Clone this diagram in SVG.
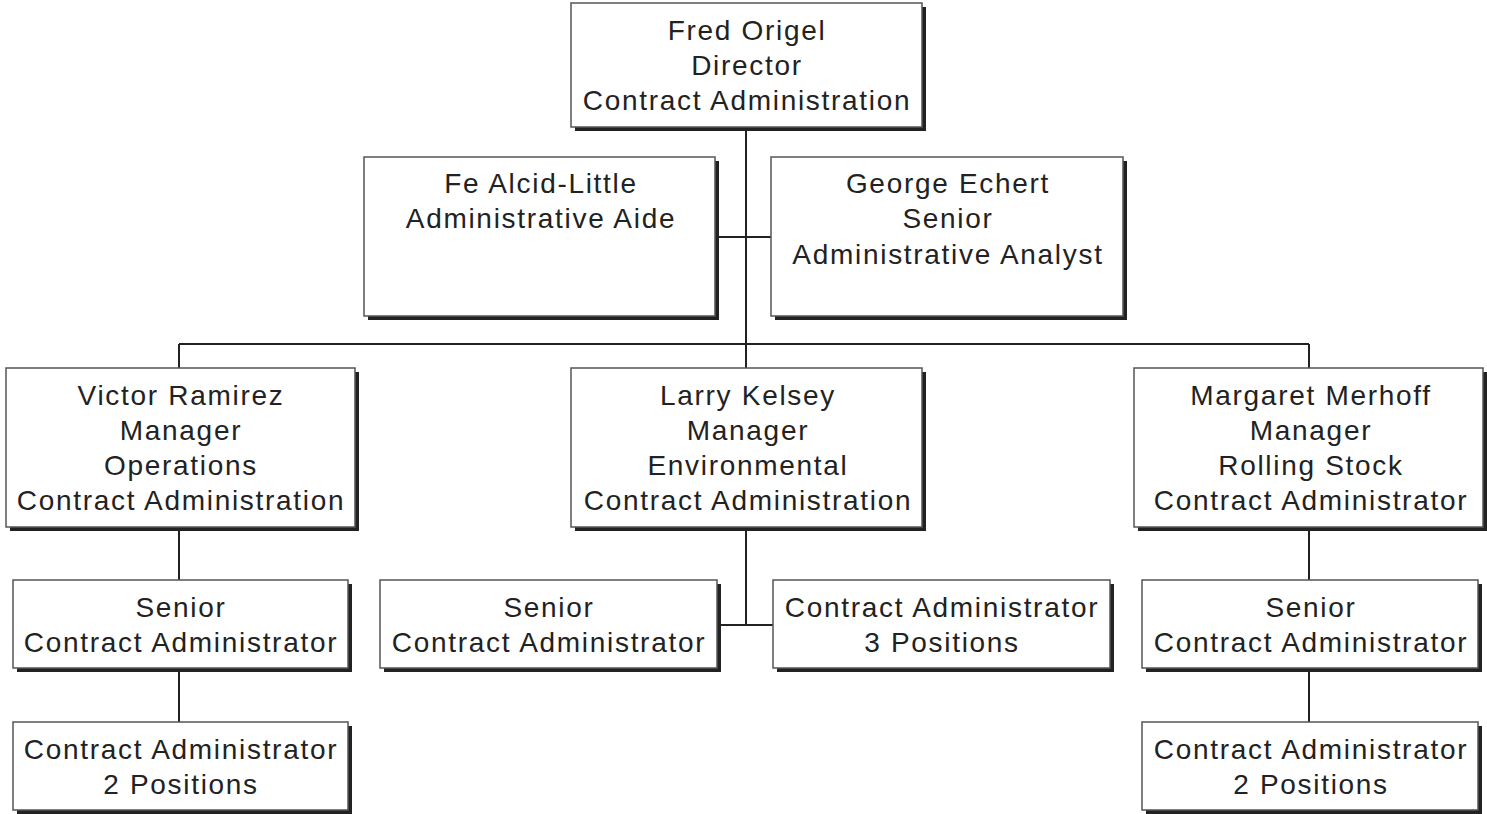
<svg xmlns="http://www.w3.org/2000/svg" width="1487" height="814" viewBox="0 0 1487 814">
<style>
.box{fill:#fff;stroke:#555;stroke-width:1.5}
.sh{fill:#222}
text{font-family:"Liberation Sans",Arial,sans-serif;font-size:28px;letter-spacing:1.7px;fill:#222;text-anchor:middle}
.ln{stroke:#222;stroke-width:2;fill:none}
</style>
<rect width="1487" height="814" fill="#fff"/>
<g id="connectors">
<path class="ln" d="M746 127V368M715 237H771M179 344H1309M179 344V368M1309 344V368M179 527V580M179 668V722M746 527V625M717 625H773M1309 527V580M1309 668V722"/>
</g>
<g id="n-fred"><rect class="sh" x="575" y="7" width="351" height="124"/><rect class="box" x="571" y="3" width="351" height="124"/><text x="747" y="40">Fred Origel</text><text x="747" y="75">Director</text><text x="747" y="110">Contract Administration</text></g>
<g id="n-fe"><rect class="sh" x="368" y="161" width="351" height="159"/><rect class="box" x="364" y="157" width="351" height="159"/><text x="541" y="193">Fe Alcid-Little</text><text x="541" y="228">Administrative Aide</text></g>
<g id="n-george"><rect class="sh" x="775" y="161" width="352" height="159"/><rect class="box" x="771" y="157" width="352" height="159"/><text x="948" y="193">George Echert</text><text x="948" y="228">Senior</text><text x="948" y="264">Administrative Analyst</text></g>
<g id="n-victor"><rect class="sh" x="10" y="372" width="349" height="159"/><rect class="box" x="6" y="368" width="349" height="159"/><text x="181" y="405">Victor Ramirez</text><text x="181" y="440">Manager</text><text x="181" y="475">Operations</text><text x="181" y="510">Contract Administration</text></g>
<g id="n-larry"><rect class="sh" x="575" y="372" width="351" height="159"/><rect class="box" x="571" y="368" width="351" height="159"/><text x="748" y="405">Larry Kelsey</text><text x="748" y="440">Manager</text><text x="748" y="475">Environmental</text><text x="748" y="510">Contract Administration</text></g>
<g id="n-margaret"><rect class="sh" x="1138" y="372" width="349" height="159"/><rect class="box" x="1134" y="368" width="349" height="159"/><text x="1311" y="405">Margaret Merhoff</text><text x="1311" y="440">Manager</text><text x="1311" y="475">Rolling Stock</text><text x="1311" y="510">Contract Administrator</text></g>
<g id="n-senior-left"><rect class="sh" x="17" y="584" width="335" height="88"/><rect class="box" x="13" y="580" width="335" height="88"/><text x="181" y="617">Senior</text><text x="181" y="652">Contract Administrator</text></g>
<g id="n-senior-mid"><rect class="sh" x="384" y="584" width="337" height="88"/><rect class="box" x="380" y="580" width="337" height="88"/><text x="549" y="617">Senior</text><text x="549" y="652">Contract Administrator</text></g>
<g id="n-ca3"><rect class="sh" x="777" y="584" width="337" height="88"/><rect class="box" x="773" y="580" width="337" height="88"/><text x="942" y="617">Contract Administrator</text><text x="942" y="652">3 Positions</text></g>
<g id="n-senior-right"><rect class="sh" x="1146" y="584" width="336" height="88"/><rect class="box" x="1142" y="580" width="336" height="88"/><text x="1311" y="617">Senior</text><text x="1311" y="652">Contract Administrator</text></g>
<g id="n-ca2-left"><rect class="sh" x="17" y="726" width="335" height="88"/><rect class="box" x="13" y="722" width="335" height="88"/><text x="181" y="759">Contract Administrator</text><text x="181" y="794">2 Positions</text></g>
<g id="n-ca2-right"><rect class="sh" x="1146" y="726" width="336" height="88"/><rect class="box" x="1142" y="722" width="336" height="88"/><text x="1311" y="759">Contract Administrator</text><text x="1311" y="794">2 Positions</text></g>
</svg>
